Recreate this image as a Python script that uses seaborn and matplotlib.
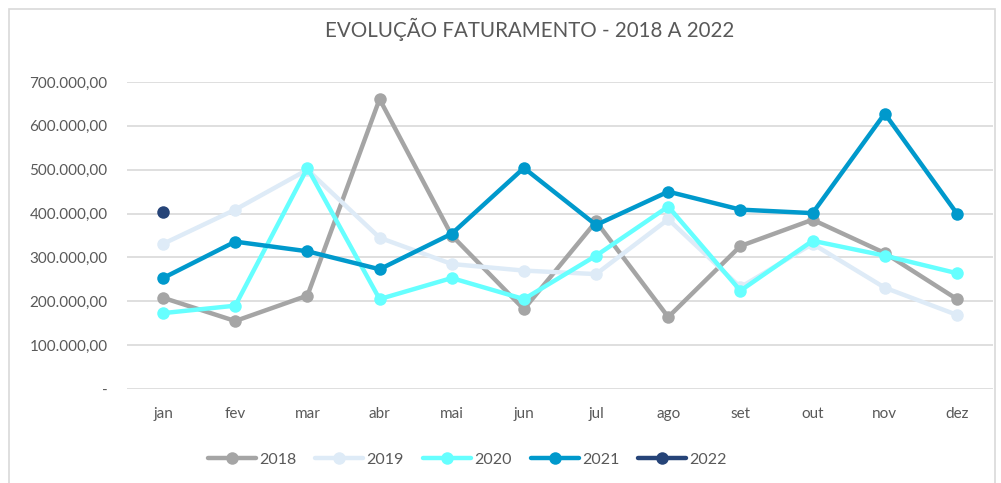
import matplotlib
matplotlib.use("Agg")
import matplotlib.pyplot as plt
import seaborn as sns
import pandas as pd
from matplotlib.patches import Rectangle
from matplotlib.ticker import FuncFormatter

months = ["jan", "fev", "mar", "abr", "mai", "jun", "jul", "ago", "set", "out", "nov", "dez"]
v2018 = [208000, 155000, 213000, 661000, 350000, 182000, 382000, 164000, 326000, 386000, 310000, 205000]
v2019 = [331000, 409000, 500000, 345000, 285000, 270000, 262000, 387000, 232000, 331000, 231000, 169000]
v2020 = [173000, 190000, 504000, 205000, 253000, 205000, 304000, 416000, 224000, 338000, 304000, 264000]
v2021 = [253000, 336000, 314000, 273000, 354000, 504000, 374000, 450000, 409000, 401000, 628000, 400000]
v2022 = [403000]
years = ["2018", "2019", "2020", "2021", "2022"]
colors = ["#A5A5A5", "#DEEBF7", "#66FFFF", "#0099CC", "#264478"]

rows = []
for y, vals in zip(years, [v2018, v2019, v2020, v2021, v2022]):
    for i, v in enumerate(vals):
        rows.append({"ano": y, "mes": i, "valor": v})
df = pd.DataFrame(rows)

sns.set_theme(style="white")
plt.rcParams["font.family"] = ["Lato", "DejaVu Sans"]

fig = plt.figure(figsize=(10.01, 4.83), dpi=100)
ax = fig.add_axes([127 / 1001, (483 - 389) / 483, (993 - 127) / 1001, (389 - 82) / 483])

sns.lineplot(data=df, x="mes", y="valor", hue="ano", palette=dict(zip(years, colors)),
             marker="o", markersize=9, markeredgewidth=0, linewidth=3.2, ax=ax, legend=False,
             sort=False)

ax.set_xlim(-0.5, 11.5)
ax.set_ylim(0, 700000)
ax.set_yticks(range(0, 700001, 100000))
ax.yaxis.set_major_formatter(FuncFormatter(
    lambda v, p: "-" if v == 0 else f"{v:,.2f}".replace(",", "X").replace(".", ",").replace("X", ".")))
ax.set_xticks(range(12))
ax.set_xticklabels(months)
ax.grid(axis="y", color="#D9D9D9", linewidth=1.2)
ax.set_axisbelow(True)
for s in ax.spines.values():
    s.set_visible(False)
ax.tick_params(axis="both", length=0, colors="#595959", labelsize=11)
ax.tick_params(axis="y", pad=14)
ax.tick_params(axis="x", pad=13)
ax.set_xlabel("")
ax.set_ylabel("")

fig.text(0.529, 0.94, "EVOLUÇÃO FATURAMENTO - 2018 A 2022", ha="center", va="center",
         fontsize=14.8, color="#595959")

handles = [plt.Line2D([], [], color=c, linewidth=3.2, marker="o", markersize=9, markeredgewidth=0)
           for c in colors]
fig.legend(handles, years, loc="center", bbox_to_anchor=(0.467, 0.048), ncol=5, frameon=False,
           fontsize=11.5, labelcolor="#595959", handlelength=3.0, columnspacing=1.2, handletextpad=0.2)

fig.patches.append(Rectangle((9 / 1001, -0.01), (995 - 9) / 1001, 1 - 9 / 483 + 0.01,
                             transform=fig.transFigure, fill=False, edgecolor="#D9D9D9",
                             linewidth=1.2))

fig.savefig("out.png", dpi=100, facecolor="white")
